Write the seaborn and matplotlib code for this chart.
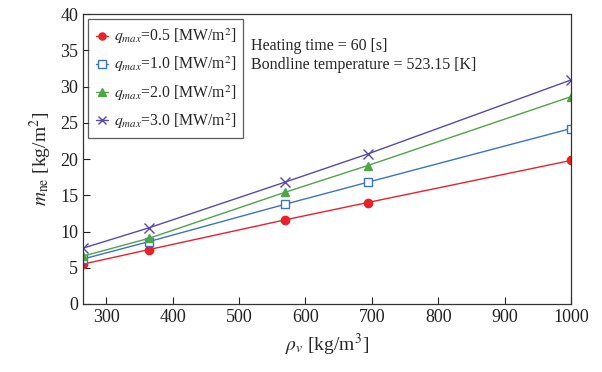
import matplotlib
matplotlib.use("Agg")
import matplotlib.pyplot as plt
import seaborn as sns
import pandas as pd

rho_v = [265, 364, 569, 694, 1000]
q_labels = ["0.5", "1.0", "2.0", "3.0"]
m_q05 = [5.5, 7.5, 11.6, 14.0, 19.8]
m_q10 = [6.2, 8.6, 13.75, 16.8, 24.2]
m_q20 = [6.6, 9.05, 15.4, 19.1, 28.6]
m_q30 = [7.7, 10.5, 16.8, 20.7, 30.9]

series = [m_q05, m_q10, m_q20, m_q30]
colors = ["#e8212b", "#3d72c2", "#4ea447", "#5a48ad"]
markers = ["o", "s", "^", "x"]

rows = []
for q, vals in zip(q_labels, series):
    for x, y in zip(rho_v, vals):
        rows.append({"rho": x, "m": y, "q": q})
df = pd.DataFrame(rows)

sns.set_style("ticks")
plt.rcParams["font.family"] = ["Liberation Serif", "DejaVu Serif"]
plt.rcParams["mathtext.fontset"] = "stix"

fig = plt.figure(figsize=(6.02, 3.72), dpi=100)
ax = fig.add_axes([83/602, 1 - 304/372, (571 - 83)/602, (304 - 14)/372])

for q, c, mk in zip(q_labels, colors, markers):
    sub = df[df["q"] == q]
    mfc = "white" if mk == "s" else c
    sns.lineplot(data=sub, x="rho", y="m", ax=ax, color=c, marker=mk,
                 markersize=6 if mk != "x" else 6.5, markerfacecolor=mfc,
                 markeredgecolor=c, markeredgewidth=1.0, linewidth=1.0,
                 label=r"$q_{max}$=" + q + r" [MW/m$^2$]")

ax.set_xlim(265, 1000)
ax.set_ylim(0, 40)
ax.set_xticks(range(300, 1001, 100))
ax.set_yticks(range(0, 41, 5))
ax.tick_params(direction="in", length=5, labelsize=13, width=0.8, colors="#222222")
for s in ax.spines.values():
    s.set_linewidth(0.9)
    s.set_color("#333333")
ax.set_xlabel(r"$\rho_v$ [kg/m$^3$]", fontsize=14)
ax.set_ylabel(r"$m_{\rm ne}$ [kg/m$^2$]", fontsize=14)

leg = ax.legend(loc="upper left", fontsize=11.3, frameon=True, fancybox=False,
                edgecolor="#333333", handlelength=0.8, handletextpad=0.35,
                borderpad=0.45, labelspacing=0.55, borderaxespad=0.35,
                markerscale=0.85)
leg.get_frame().set_linewidth(0.9)

ax.text(0.345, 0.875, "Heating time = 60 [s]", transform=ax.transAxes, fontsize=11.5)
ax.text(0.345, 0.812, "Bondline temperature = 523.15 [K]", transform=ax.transAxes, fontsize=11.5)

fig.savefig("out.png", dpi=100)
